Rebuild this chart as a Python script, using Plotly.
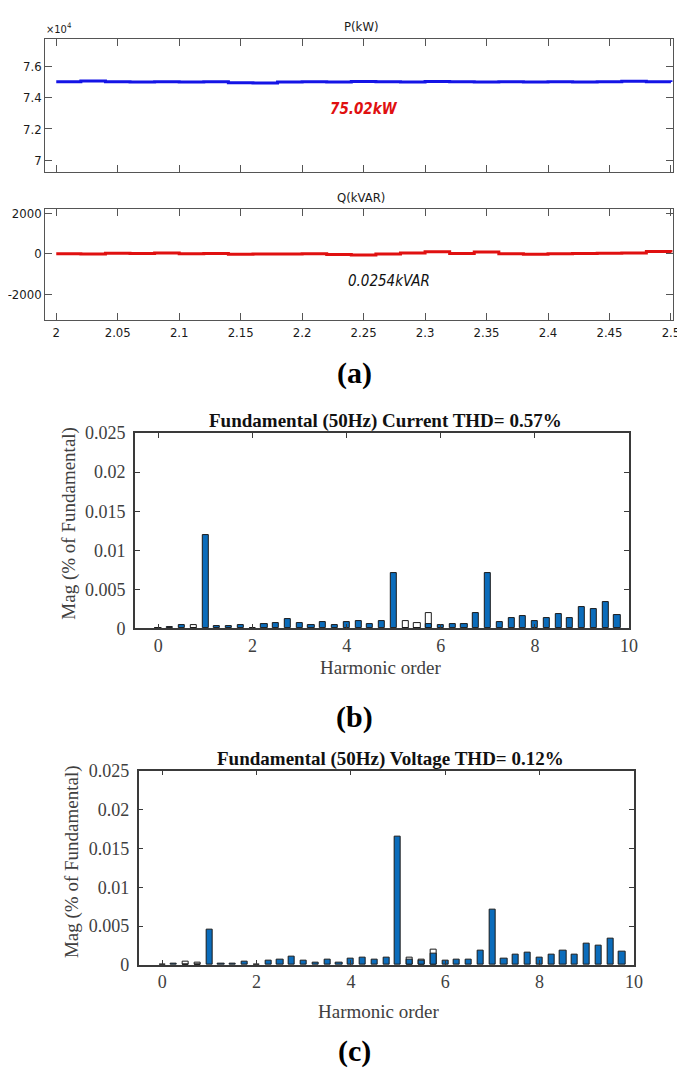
import plotly.graph_objects as go

# ---------------- data ----------------
time_s = [2.00, 2.02, 2.04, 2.06, 2.08, 2.10, 2.12, 2.14, 2.16, 2.18, 2.20, 2.22, 2.24,
          2.26, 2.28, 2.30, 2.32, 2.34, 2.36, 2.38, 2.40, 2.42, 2.44, 2.46, 2.48, 2.50]
p_kw = [75010, 75060, 75020, 75000, 75010, 75000, 75010, 74960, 74930, 75000, 75010, 75000, 75030,
        75010, 75000, 75030, 75010, 75000, 75010, 75000, 75010, 75000, 75020, 75050, 75010, 75000]
q_kvar = [0, -20, 20, 10, 40, 0, 10, -30, -20, -10, 0, -40, -60,
          -20, 30, 100, 10, 90, 0, -30, 0, 10, 20, 30, 110, 60]

orders = [0, 0.25, 0.5, 0.75, 1, 1.25, 1.5, 1.75, 2, 2.25, 2.5, 2.75, 3, 3.25, 3.5, 3.75,
          4, 4.25, 4.5, 4.75, 5, 5.25, 5.5, 5.75, 6, 6.25, 6.5, 6.75, 7, 7.25, 7.5, 7.75,
          8, 8.25, 8.5, 8.75, 9, 9.25, 9.5, 9.75]
current_mag = [0.0001, 0.0002, 0.00047, 0.0, 0.0119, 0.0003, 0.00025, 0.00047, 0.0001, 0.0006,
               0.0007, 0.00115, 0.00064, 0.0004, 0.00076, 0.0004, 0.00085, 0.0009, 0.00058, 0.00093,
               0.0071, 0.0001, 0.0001, 0.0006, 0.0004, 0.0006, 0.0006, 0.0019, 0.0071, 0.00076,
               0.00136, 0.00157, 0.00097, 0.0013, 0.0018, 0.00136, 0.00275, 0.0025, 0.0034, 0.00165]
current_ghost = [None, None, None, 0.0004, None, None, None, None, None, None,
                 None, None, None, None, None, None, None, None, None, None,
                 None, 0.00093, 0.0007, 0.002, None, None, None, None, None, None,
                 None, None, None, None, None, None, None, None, None, None]
voltage_mag = [0.0001, 0.00017, 0.0, 0.0, 0.0045, 0.00017, 0.00017, 0.00047, 0.0001, 0.00055,
               0.00068, 0.00106, 0.0006, 0.0003, 0.00072, 0.0003, 0.0008, 0.00092, 0.00064, 0.001,
               0.0165, 0.0007, 0.0005, 0.0014, 0.00055, 0.00064, 0.00064, 0.0019, 0.0071, 0.0008,
               0.0013, 0.00157, 0.001, 0.00127, 0.0018, 0.0013, 0.00275, 0.00246, 0.0034, 0.00165]
voltage_ghost = [None, None, 0.0004, 0.00034, None, None, None, None, None, None,
                 None, None, None, None, None, None, None, None, None, None,
                 None, 0.00097, 0.00072, 0.002, None, None, None, None, None, None,
                 None, None, None, None, None, None, None, None, None, None]

p_ticks = [70000, 72000, 74000, 76000]
p_ticktext = ["7", "7.2", "7.4", "7.6"]
q_ticks = [-2000, 0, 2000]
q_ticktext = ["-2000", "0", "2000"]
t_ticks = [2, 2.05, 2.1, 2.15, 2.2, 2.25, 2.3, 2.35, 2.4, 2.45, 2.5]
t_ticktext = ["2", "2.05", "2.1", "2.15", "2.2", "2.25", "2.3", "2.35", "2.4", "2.45", "2.5"]
mag_ticks = [0, 0.005, 0.01, 0.015, 0.02, 0.025]
mag_ticktext = ["0", "0.005", "0.01", "0.015", "0.02", "0.025"]
ord_ticks = [0, 2, 4, 6, 8, 10]

# ---------------- layout helpers ----------------
W, H = 685, 1069
def px(x):
    return x / W
def py(y):
    return 1 - y / H

NARROW = "Liberation Sans Narrow, DejaVu Sans Condensed, Arial Narrow, Liberation Sans, sans-serif"
SERIF = "Liberation Serif, Times New Roman, serif"
BLUE_BAR = "#0b6cbb"

fig = go.Figure()

fig.add_trace(go.Scatter(x=time_s, y=p_kw, mode="lines", line=dict(color="#1414e6", width=3, shape="hv"),
                         xaxis="x", yaxis="y", showlegend=False))
fig.add_trace(go.Scatter(x=time_s, y=q_kvar, mode="lines", line=dict(color="#e01010", width=3, shape="hv"),
                         xaxis="x2", yaxis="y2", showlegend=False))

for xa, ya, ghost, mag in (("x3", "y3", current_ghost, current_mag),
                           ("x4", "y4", voltage_ghost, voltage_mag)):
    fig.add_trace(go.Bar(x=orders, y=ghost, width=0.13, marker=dict(color="white",
                         line=dict(color="#1a1a1a", width=1)), xaxis=xa, yaxis=ya, showlegend=False))
    fig.add_trace(go.Bar(x=orders, y=mag, width=0.13, marker=dict(color=BLUE_BAR,
                         line=dict(color="#1a1a1a", width=1)), xaxis=xa, yaxis=ya, showlegend=False))

ax_a = dict(showline=True, linecolor="#555555", linewidth=1, mirror="allticks", ticks="inside",
            ticklen=7, tickcolor="#555555", showgrid=False, zeroline=False,
            tickfont=dict(family=NARROW, size=13, color="#1a1a1a"))
ax_b = dict(showline=True, linecolor="#3a3a3a", linewidth=1.5, mirror="allticks", ticks="inside",
            ticklen=5, tickcolor="#3a3a3a", showgrid=False, zeroline=False,
            tickfont=dict(family=SERIF, size=18, color="#404040"))

fig.update_layout(
    width=W, height=H, margin=dict(l=0, r=0, t=0, b=0),
    paper_bgcolor="white", plot_bgcolor="white", barmode="overlay", bargap=0,
    xaxis=dict(ax_a, domain=[px(22), px(674)], range=[1.991, 2.502], tickvals=t_ticks,
               showticklabels=False, anchor="y"),
    yaxis=dict(ax_a, domain=[py(157), py(21)], range=[69250, 77770], tickvals=p_ticks,
               ticktext=p_ticktext, anchor="x"),
    xaxis2=dict(ax_a, domain=[px(22), px(674)], range=[1.991, 2.502], tickvals=t_ticks,
                ticktext=t_ticktext, anchor="y2"),
    yaxis2=dict(ax_a, domain=[py(308), py(195)], range=[-3300, 2200], tickvals=q_ticks,
                ticktext=q_ticktext, anchor="x2"),
    xaxis3=dict(ax_b, domain=[px(115), px(628)], range=[-0.5, 10], tickvals=ord_ticks, anchor="y3"),
    yaxis3=dict(ax_b, domain=[py(622), py(423)], range=[0, 0.025], tickvals=mag_ticks,
                ticktext=mag_ticktext, anchor="x3", ticklabelstandoff=4),
    xaxis4=dict(ax_b, domain=[px(119), px(633)], range=[-0.5, 10], tickvals=ord_ticks, anchor="y4"),
    yaxis4=dict(ax_b, domain=[py(965), py(767)], range=[0, 0.025], tickvals=mag_ticks,
                ticktext=mag_ticktext, anchor="x4", ticklabelstandoff=4),
)

def note(text, x, y, font, xanchor="center", **kw):
    fig.add_annotation(text=text, x=px(x), y=py(y), xref="paper", yref="paper",
                       showarrow=False, font=font, xanchor=xanchor, yanchor="middle", **kw)

note("P(kW)", 350, 9, dict(family=NARROW, size=13, color="#1a1a1a"))
note("\u00d710<sup>4</sup>", 21, 11, dict(family=NARROW, size=11, color="#1a1a1a"), xanchor="left")
note("<b><i>75.02kW</i></b>", 353, 93, dict(family=NARROW, size=15, color="#e01010"))
note("Q(kVAR)", 350, 183, dict(family=NARROW, size=13, color="#1a1a1a"))
note("<i>0.0254kVAR</i>", 379, 268, dict(family=NARROW, size=15, color="#111111"))
note("<b>(a)</b>", 343, 362, dict(family=SERIF, size=30, color="black"))

note("<b>Fundamental (50Hz) Current THD= 0.57%</b>", 375, 411, dict(family=SERIF, size=19, color="#111111"))
note("Mag (% of Fundamental)", 47, 515, dict(family=SERIF, size=19, color="#404040"), textangle=-90)
note("Harmonic order", 370, 662, dict(family=SERIF, size=19, color="#404040"))
note("<b>(b)</b>", 343, 712, dict(family=SERIF, size=30, color="black"))

note("<b>Fundamental (50Hz) Voltage THD= 0.12%</b>", 380, 755, dict(family=SERIF, size=19, color="#111111"))
note("Mag (% of Fundamental)", 50, 860, dict(family=SERIF, size=19, color="#404040"), textangle=-90)
note("Harmonic order", 368, 1012, dict(family=SERIF, size=19, color="#404040"))
note("<b>(c)</b>", 343, 1053, dict(family=SERIF, size=30, color="black"))

fig.write_html("out.html")
